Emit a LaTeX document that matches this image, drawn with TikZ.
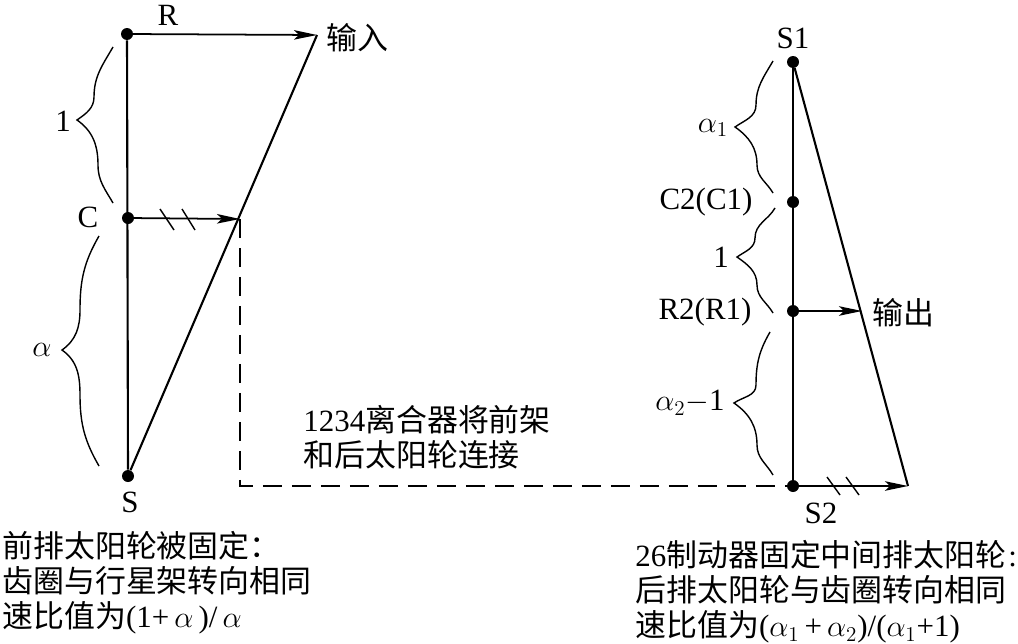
\documentclass[tikz,border=0pt]{standalone}
\usepackage{fontspec}
\usepackage{amsmath}
\setmainfont{Liberation Serif}
\newfontfamily\cjk{Noto Sans CJK SC}
\usetikzlibrary{arrows.meta,calc}
\newcommand{\gearbrace}[5]{\draw[bracecurve] #1 to[out=240,in=90] #2 to[out=-90,in=35] #3 to[out=-35,in=90] #4 to[out=-90,in=120] #5;}
\tikzset{
  geardot/.style={circle, fill=black, inner sep=0pt, minimum size=0.24cm},
  lab/.style={inner sep=0pt, align=left},
  mainline/.style={line width=1.2pt},
  speedarrow/.style={line width=1pt, -{Stealth[length=0.46cm,width=0.19cm,inset=0.1cm]}, shorten <=-1pt},
  bracecurve/.style={line width=0.8pt},
  tickmark/.style={line width=0.8pt},
  dashline/.style={line width=1pt, dash pattern=on 10.8pt off 5.7pt}
}

\begin{document}
\begin{tikzpicture}[font=\fontsize{17.6}{20}\selectfont]
  \useasboundingbox (0,0) rectangle (20.36,12.86);

  \node[geardot] (ringdot) at (2.54,12.18) {};
  \node[geardot] (carrierdot) at (2.56,8.5) {};
  \node[geardot] (sundot) at (2.56,3.34) {};
  \coordinate (inputtip) at (6.34,12.16);
  \coordinate (carriertip) at (4.8,8.48);
  \draw[mainline] (ringdot) -- (sundot);
  \draw[mainline] (sundot) -- (inputtip);
  \draw[speedarrow] (ringdot) -- (inputtip);
  \draw[speedarrow] (carrierdot) -- (carriertip);
  \draw[tickmark] (3.2,8.68) -- (3.48,8.26);
  \draw[tickmark] (3.64,8.68) -- (3.9,8.26);

  \node[lab] (ringlab) at (3.36,12.56) {R};
  \node[lab] (inputlab) at (7.14,12.1) {\cjk 输入};
  \node[lab] (onelab) at (1.26,10.44) {1};
  \node[lab] (carrierlab) at (1.76,8.52) {C};
  \node[lab] (alphalab) at (0.84,5.86) {$\alpha$};
  \node[lab] (sunlab) at (2.6,2.82) {S};
  \gearbrace{(2.26,11.92)}{(1.88,10.92)}{(1.54,10.46)}{(1.96,9.56)}{(2.26,8.8)}
  \gearbrace{(1.98,8.14)}{(1.6,6.66)}{(1.24,5.86)}{(1.6,4.96)}{(1.98,3.54)}

  \node[geardot] (sunonedot) at (15.86,11.62) {};
  \node[geardot] (cartwodot) at (15.86,8.82) {};
  \node[geardot] (ringtwodot) at (15.86,6.64) {};
  \node[geardot] (suntwodot) at (15.86,3.14) {};
  \coordinate (outputtip) at (17.24,6.64);
  \coordinate (suntwotip) at (18.16,3.14);
  \draw[mainline] (sunonedot) -- (suntwodot);
  \draw[mainline] (sunonedot) -- (suntwotip);
  \draw[speedarrow] (ringtwodot) -- (outputtip);
  \draw[speedarrow] (suntwodot) -- (suntwotip);
  \draw[tickmark] (16.54,3.32) -- (16.8,2.96);
  \draw[tickmark] (16.92,3.32) -- (17.18,2.96);
  \draw[dashline] (carriertip) -- (carriertip |- suntwodot) -- (suntwodot);

  \node[lab] (sunonelab) at (15.86,12.1) {S1};
  \node[lab] (cartwolab) at (14.12,8.82) {C2(C1)};
  \node[lab] (ringtwolab) at (14.1,6.62) {R2(R1)};
  \node[lab] (suntwolab) at (16.42,2.6) {S2};
  \node[lab] (outputlab) at (18.06,6.6) {\cjk 输出};
  \node[lab] (alphaonelab) at (14.26,10.3) {$\alpha_1$};
  \node[lab] (unitlab) at (14.42,7.72) {1};
  \node[lab] (alphatwolab) at (13.8,4.8) {$\alpha_2$$-$1};
  \gearbrace{(15.46,11.64)}{(15.12,10.76)}{(14.7,10.32)}{(15.14,9.56)}{(15.46,9.0)}
  \gearbrace{(15.5,8.7)}{(15.1,8.1)}{(14.74,7.72)}{(15.14,7.16)}{(15.46,6.6)}
  \gearbrace{(15.4,6.22)}{(15.12,5.16)}{(14.68,4.8)}{(15.14,3.96)}{(15.46,3.36)}

  \node[lab, anchor=west] (clutchnote) at (6.06,4.12) {1234{\cjk 离合器将前架}\\{\cjk 和后太阳轮连接}};
  \node[lab, anchor=west] (frontnote) at (0.04,1.2) {{\cjk 前排太阳轮被固定：}\\{\cjk 齿圈与行星架转向相同}\\{\cjk 速比值为}(1+\,$\alpha$\,)/\,$\alpha$};
  \node[lab, anchor=west] (rearnote) at (12.7,1.02) {26{\cjk 制动器固定中间排太阳轮}\kern1pt:\\{\cjk 后排太阳轮与齿圈转向相同}\\{\cjk 速比值为}($\alpha_1$\,+\,$\alpha_2$)/($\alpha_1$+1)};
\end{tikzpicture}
\end{document}
